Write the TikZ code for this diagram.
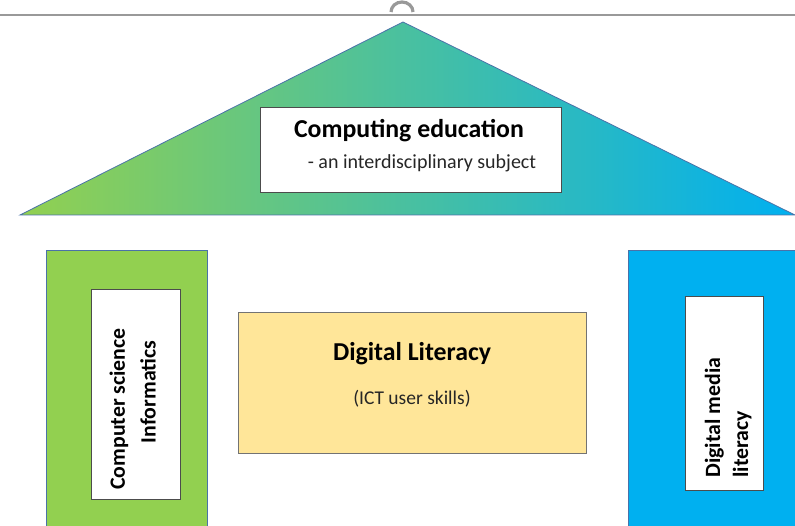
\documentclass[tikz,border=0pt]{standalone}
\usepackage{fontspec}
\setmainfont{Carlito}
\definecolor{cgreen}{HTML}{92D050}
\definecolor{cblue}{HTML}{00B0F0}
\definecolor{cedge}{HTML}{4A72A8}
\definecolor{cyellow}{HTML}{FFE699}
\definecolor{ctext}{HTML}{262626}
\begin{document}
\begin{tikzpicture}[x=1pt,y=-1pt,
  whitebox/.style={draw=black!70,fill=white,line width=0.8pt},
  pillar/.style={draw=cedge,line width=0.8pt},
  ttl/.style={font=\bfseries\fontsize{25.8}{29}\selectfont,text=black},
  sub/.style={font=\fontsize{20}{23}\selectfont,text=ctext},
  vtext/.style={rotate=90,font=\bfseries\fontsize{21.8}{24}\selectfont,text=black}]
\useasboundingbox (0,0) rectangle (795,526);
% top line and handle
\draw[gray!80,line width=1.5pt] (0,15) -- (795,15);
\draw[gray!80,line width=3.2pt] (391,12) arc[start angle=180,end angle=360,x radius=11,y radius=10];
% roof
\shade[left color=cgreen,right color=cblue] (403,22) -- (795,215) -- (20,215) -- cycle;
\draw[cedge,line width=0.8pt] (403,22) -- (795,215) -- (20,215) -- cycle;
\node[whitebox,minimum width=301pt,minimum height=85pt,anchor=north west] (roofbox) at (260,107) {};
\node[ttl] (t1) at (409,131) {Computing education};
\node[sub] (t2) at (422,163) {- an interdisciplinary subject};
% left pillar
\fill[cgreen] (46,250) rectangle (207,527);
\draw[pillar] (46,528) -- (46,250) -- (207,250) -- (207,528);
\node[whitebox,minimum width=89pt,minimum height=210pt,anchor=north west] (lbox) at (91,289) {};
\node[vtext] (l1) at (119,409) {Computer science};
\node[vtext] (l2) at (148,392) {Informatics};
% right pillar
\fill[cblue] (628,250) rectangle (796,527);
\draw[pillar] (628,528) -- (628,250) -- (796,250);
\node[whitebox,minimum width=78pt,minimum height=194pt,anchor=north west] (rbox) at (685,296) {};
\node[vtext,anchor=base west] (r1) at (720,481) {Digital media};
\node[vtext,anchor=base west] (r2) at (748,481) {literacy};
% middle
\node[draw=black!55,fill=cyellow,line width=0.8pt,minimum width=348pt,minimum height=141pt,anchor=north west] (mid) at (238,312) {};
\node[ttl] (m1) at (412,354) {Digital Literacy};
\node[font=\fontsize{19.5}{22}\selectfont,text=ctext] (m2) at (412,399) {(ICT user skills)};
\end{tikzpicture}
\end{document}
